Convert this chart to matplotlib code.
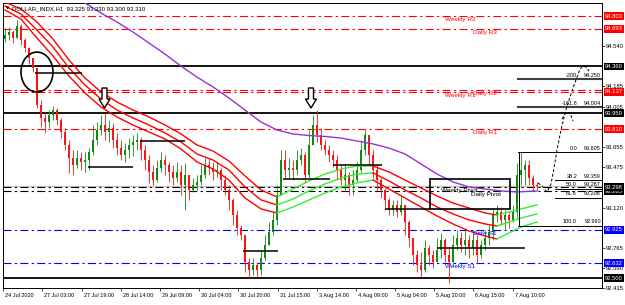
import numpy as np
import matplotlib
matplotlib.use("Agg")
import matplotlib.pyplot as plt
from matplotlib.patches import Ellipse, Polygon, Rectangle
from matplotlib import transforms

plt.rcParams['font.family'] = ['Liberation Sans', 'DejaVu Sans']

# DOLLAR_INDX H1, candles drawn every 2 bars
candle_x = np.arange(0, 268, 2)
first_open = 94.60
close = [94.636, 94.663, 94.610, 94.716, 94.593, 94.522, 94.434, 94.347, 94.021, 93.907,
         93.872, 93.934, 93.977, 93.890, 93.784, 93.670, 93.556, 93.494, 93.556, 93.521,
         93.538, 93.608, 93.714, 93.802, 93.846, 93.784, 93.819, 93.714, 93.643, 93.582,
         93.626, 93.670, 93.696, 93.714, 93.626, 93.538, 93.433, 93.362, 93.468, 93.538,
         93.494, 93.433, 93.380, 93.433, 93.318, 93.406, 93.275, 93.318, 93.345, 93.406,
         93.494, 93.468, 93.433, 93.450, 93.362, 93.275, 93.187, 93.055, 92.941, 92.879,
         92.642, 92.571, 92.615, 92.571, 92.677, 92.791, 92.905, 93.011, 93.231, 93.538,
         93.450, 93.468, 93.450, 93.538, 93.582, 93.406, 93.670, 93.846, 93.758, 93.670,
         93.626, 93.582, 93.538, 93.450, 93.362, 93.406, 93.318, 93.362, 93.450, 93.626,
         93.758, 93.582, 93.450, 93.362, 93.275, 93.187, 93.099, 93.143, 93.081, 93.143,
         92.993, 92.853, 92.703, 92.615, 92.571, 92.765, 92.703, 92.642, 92.747, 92.835,
         92.703, 92.642, 92.791, 92.853, 92.791, 92.835, 92.765, 92.835, 92.703, 92.791,
         92.853, 92.905, 93.055, 93.081, 93.011, 93.055, 93.011, 93.081, 93.406, 93.450,
         93.494, 93.380, 93.318, 93.310]
high = [94.698, 94.707, 94.680, 94.768, 94.733, 94.610, 94.531, 94.434, 94.329, 94.065,
        93.960, 93.977, 94.013, 93.995, 93.907, 93.819, 93.714, 93.626, 93.626, 93.608,
        93.608, 93.643, 93.846, 93.872, 93.934, 93.951, 93.890, 93.863, 93.775, 93.714,
        93.687, 93.731, 93.758, 93.775, 93.740, 93.670, 93.582, 93.494, 93.538, 93.608,
        93.582, 93.521, 93.494, 93.521, 93.494, 93.512, 93.362, 93.380, 93.406, 93.494,
        93.556, 93.556, 93.521, 93.521, 93.468, 93.406, 93.318, 93.204, 93.099, 92.967,
        92.765, 92.677, 92.677, 92.642, 92.747, 92.879, 92.993, 93.081, 93.318, 93.626,
        93.626, 93.556, 93.538, 93.626, 93.643, 93.608, 93.802, 93.934, 93.977, 93.819,
        93.714, 93.670, 93.626, 93.582, 93.494, 93.494, 93.433, 93.450, 93.521, 93.714,
        93.802, 93.758, 93.626, 93.494, 93.380, 93.292, 93.204, 93.187, 93.187, 93.231,
        93.143, 93.011, 92.853, 92.747, 92.730, 92.835, 92.791, 92.747, 92.853, 92.897,
        92.853, 92.765, 92.879, 92.923, 92.905, 92.923, 92.879, 92.923, 92.879, 92.835,
        92.923, 92.967, 93.116, 93.143, 93.125, 93.099, 93.081, 93.143, 93.512, 93.608,
        93.538, 93.538, 93.406, 93.345]
low = [94.575, 94.593, 94.566, 94.610, 94.549, 94.487, 94.382, 94.311, 93.995, 93.828,
       93.775, 93.819, 93.890, 93.846, 93.731, 93.626, 93.424, 93.406, 93.468, 93.450,
       93.433, 93.450, 93.582, 93.670, 93.758, 93.714, 93.696, 93.643, 93.582, 93.538,
       93.521, 93.556, 93.573, 93.626, 93.538, 93.450, 93.336, 93.318, 93.345, 93.433,
       93.406, 93.345, 93.318, 93.345, 93.231, 93.099, 93.187, 93.257, 93.275, 93.318,
       93.380, 93.406, 93.362, 93.389, 93.275, 93.231, 93.099, 92.967, 92.879, 92.835,
       92.554, 92.501, 92.528, 92.510, 92.528, 92.659, 92.791, 92.879, 92.967, 93.231,
       93.380, 93.380, 93.362, 93.406, 93.494, 93.336, 93.380, 93.670, 93.696, 93.626,
       93.582, 93.521, 93.477, 93.362, 93.318, 93.275, 93.231, 93.231, 93.345, 93.433,
       93.582, 93.494, 93.380, 93.275, 93.204, 93.099, 93.055, 93.055, 93.037, 93.055,
       92.879, 92.774, 92.615, 92.554, 92.510, 92.554, 92.615, 92.589, 92.642, 92.677,
       92.642, 92.457, 92.615, 92.747, 92.730, 92.703, 92.677, 92.703, 92.633, 92.677,
       92.747, 92.791, 92.835, 92.993, 92.967, 92.923, 92.941, 92.993, 93.028, 93.318,
       93.318, 93.318, 93.275, 93.275]

# MA band (3 lines), colour switches at trend changes
band_x = [0, 8, 16, 24, 32, 40, 48, 56, 64, 72, 80, 88, 96, 104, 112, 120, 128, 136,
          144, 152, 160, 168, 176, 184, 192, 200, 208, 216, 224, 232, 240, 246, 252, 258, 266]
band_upper = [94.926, 94.865, 94.751, 94.601, 94.417, 94.259, 94.136, 94.048, 93.977, 93.916,
              93.846, 93.767, 93.670, 93.617, 93.529, 93.398, 93.275, 93.213, 93.283, 93.354,
              93.415, 93.459, 93.485, 93.485, 93.433, 93.362, 93.292, 93.222, 93.160, 93.116,
              93.072, 93.055, 93.081, 93.108, 93.143]
band_mid = [94.891, 94.821, 94.680, 94.531, 94.347, 94.197, 94.074, 93.977, 93.907, 93.846,
            93.775, 93.696, 93.591, 93.538, 93.450, 93.301, 93.187, 93.143, 93.195, 93.266,
            93.327, 93.380, 93.415, 93.424, 93.354, 93.275, 93.204, 93.125, 93.064, 93.011,
            92.976, 92.958, 92.993, 93.028, 93.064]
band_lower = [94.856, 94.777, 94.610, 94.452, 94.276, 94.127, 94.004, 93.916, 93.846, 93.784,
              93.723, 93.635, 93.521, 93.459, 93.362, 93.204, 93.108, 93.072, 93.125, 93.187,
              93.248, 93.301, 93.336, 93.362, 93.283, 93.204, 93.125, 93.046, 92.976, 92.914,
              92.870, 92.844, 92.897, 92.949, 92.993]
trend_switch = [136, 184, 246]
band_colors = ['#ff0000', '#33ee33', '#ff0000', '#33ee33']

# slow MA
ma_x = [35, 40, 48, 56, 64, 72, 80, 88, 96, 104, 112, 120, 128, 136, 144, 152, 160, 168,
        176, 184, 192, 200, 208, 216, 224, 232, 240, 248, 256, 266]
ma_y = [94.970, 94.918, 94.830, 94.751, 94.663, 94.566, 94.469, 94.364, 94.267, 94.180,
        94.083, 93.977, 93.872, 93.802, 93.767, 93.753, 93.745, 93.731, 93.705, 93.679,
        93.643, 93.591, 93.503, 93.415, 93.345, 93.301, 93.283, 93.266, 93.257, 93.266]

# pivot levels
level_names = ["Weekly R2", "Daily R3", "Daily R2", "Weekly R1", "Daily R1",
               "Weekly Pivot", "Daily Pivot", "Daily S1", "Weekly S1"]
level_prices = [94.803, 94.693, 94.155, 94.137, 93.810, 93.298, 93.265, 92.925, 92.632]
level_colors = ['#ff0000', '#ff0000', '#ff0000', '#ff0000', '#ff0000',
                'black', 'black', '#0000ff', '#0000ff']
level_label_x = [220, 234, 234, 220, 234, 218, 233, 234, 220]

sr_levels = [94.360, 93.950, 92.500]
bid_price = 93.310

# right scale
plain_ticks = [94.540, 94.185, 94.005, 93.655, 93.475, 93.120, 92.765, 92.590, 92.415]
box_prices = [94.803, 94.693, 94.137, 94.360, 93.950, 93.810, 93.265, 93.298, 92.925, 92.632, 92.500]
box_colors = ['#ff0000', '#ff0000', '#ff0000', 'black', 'black', '#ff0000',
              'black', 'black', '#0000ff', '#0000ff', 'black']

# time axis
time_pos = [-1, 18.5, 38.5, 58, 77.5, 97, 116.5, 136.5, 156, 175.5, 195, 214.5, 234, 254]
time_labels = ["24 Jul 2020", "27 Jul 03:00", "27 Jul 19:00", "28 Jul 14:00", "29 Jul 09:00",
               "30 Jul 04:00", "30 Jul 20:00", "31 Jul 15:00", "3 Aug 14:00", "4 Aug 09:00",
               "5 Aug 04:00", "5 Aug 20:00", "6 Aug 15:00", "7 Aug 10:00"]

# fibonacci retracement
fib_names = ["-200", "-161.8", "0.0", "38.2", "50.0", "61.8", "100.0"]
fib_prices = [94.250, 94.004, 93.605, 93.359, 93.287, 93.206, 92.960]
fib_start = [256.5, 256.5, 256.5, 275, 275, 275, 256.5]

# drawings
seg_x0 = [15, 41.5, 67.5, 119, 139, 164, 190, 216]
seg_x1 = [38.5, 64, 90, 136.5, 162.5, 188.5, 212.5, 260]
seg_y = [94.303, 93.477, 93.705, 92.738, 93.371, 93.494, 93.108, 92.765]
box_x = [212.5, 252.5]
box_y = [93.108, 93.371]
arrow_x = [49.75, 153]
arrow_top, arrow_neck, arrow_tip = 94.171, 94.074, 93.995
circle_xy = (16, 94.311)
path_x = [266.5, 268.5, 271, 273, 274.5, 276, 278, 280, 282, 284, 286, 287.5, 289, 290.5, 292]
path_y = [93.336, 93.310, 93.257, 93.327, 93.468, 93.626, 93.802, 93.951, 94.065, 94.171,
          94.267, 94.338, 94.364, 94.355, 94.320]
hook_x = [278.5, 280.5, 282.5, 284]
hook_y = [93.898, 93.960, 93.951, 93.881]

fig = plt.figure(figsize=(6.25, 3.05), dpi=100)
ax = fig.add_axes([3 / 625, 17 / 305, 599 / 625, 285 / 305])
ax.set_xlim(-1, 298.5)
ax.set_ylim(92.413, 94.918)

dashdot = (0, (7.2, 3, 2, 3))

# horizontal levels
ax.axhline(bid_price, color='#c0c0c0', lw=0.8, zorder=1)
for p in sr_levels:
    ax.axhline(p, color='black', lw=1.3, zorder=1)
for name, p, col, lx in zip(level_names, level_prices, level_colors, level_label_x):
    ax.axhline(p, color=col, lw=0.8, ls=dashdot, zorder=1)
    ax.annotate(name, (lx, p), xytext=(0, -0.8), textcoords='offset points',
                color=col, fontsize=4.6, ha='left', va='top', zorder=6)

# candles
c = np.array(close)
o = np.r_[first_open, c[:-1]]
hi = np.maximum(np.array(high), np.maximum(o, c))
lo = np.minimum(np.array(low), np.minimum(o, c))
cols = np.where(c >= o, '#118a11', '#ff1414')
ax.vlines(candle_x, lo, hi, colors=cols, lw=0.6, zorder=3)
body = np.where(np.abs(c - o) < 0.004, 0.004, c - o)
ax.bar(candle_x, body, bottom=o, width=1.2, color=cols, lw=0, zorder=3)

# indicators
bx = np.array(band_x)
edges = [bx[0]] + trend_switch + [bx[-1]]
for i in range(len(edges) - 1):
    m = (bx >= edges[i]) & (bx <= edges[i + 1])
    for band in (band_upper, band_mid, band_lower):
        ax.plot(bx[m], np.array(band)[m], color=band_colors[i], lw=1.0, zorder=4)
ax.plot(ma_x, ma_y, color='#9b30d9', lw=1.0, zorder=4)

# fibonacci
for name, p, x0 in zip(fib_names, fib_prices, fib_start):
    lw = 1.5 if p > 94 else 0.7
    col = '#404040' if p > 94 else 'black'
    ax.plot([x0, 298.5], [p, p], color=col, lw=lw, zorder=5)
    ax.text(286, p + 0.012, name, fontsize=4, ha='right', va='bottom', zorder=6)
    ax.text(298, p + 0.012, f"{p:.3f}", fontsize=4, ha='right', va='bottom', zorder=6)
ax.plot([257, 257], [fib_prices[-1], fib_prices[2]], color='black', lw=0.7, zorder=5)

# drawn objects
ax.hlines(seg_y, seg_x0, seg_x1, colors='black', lw=1.1, zorder=5)
ax.add_patch(Rectangle((box_x[0], box_y[0]), box_x[1] - box_x[0], box_y[1] - box_y[0],
                       fill=False, ec='black', lw=1.2, zorder=5))
ax.add_patch(Ellipse(circle_xy, 16, 0.351, fill=False, ec='black', lw=1.2, zorder=5))
for ax_x in arrow_x:
    pts = [(ax_x - 1.25, arrow_top), (ax_x + 1.25, arrow_top), (ax_x + 1.25, arrow_neck),
           (ax_x + 2.75, arrow_neck), (ax_x, arrow_tip), (ax_x - 2.75, arrow_neck),
           (ax_x - 1.25, arrow_neck)]
    ax.add_patch(Polygon(pts, closed=True, fc='white', ec='black', lw=1.0, zorder=6))
ax.plot(path_x, path_y, color='black', lw=0.7, ls=(0, (3, 2)), zorder=6)
ax.plot(hook_x, hook_y, color='black', lw=0.7, ls=(0, (3, 2)), zorder=6)

# axes styling
for s in ax.spines.values():
    s.set_color('black')
    s.set_linewidth(0.7)
ax.set_xticks(time_pos)
ax.set_xticklabels(time_labels, fontsize=4, ha='left')
ax.tick_params(axis='x', length=2, width=0.5, pad=1.5)
shift = transforms.ScaledTranslation(2 / 100, 0, fig.dpi_scale_trans)
for lab in ax.get_xticklabels():
    lab.set_transform(lab.get_transform() + shift)
ax.yaxis.tick_right()
ax.set_yticks(plain_ticks)
ax.set_yticklabels([f"{p:.3f}" for p in plain_ticks], fontsize=4.2)
ax.tick_params(axis='y', length=2, width=0.5, pad=1)

trans = transforms.blended_transform_factory(ax.transAxes, ax.transData)
for p, col in zip(box_prices, box_colors):
    ax.text(1.0 + 3 / 599, p, f"{p:.3f}", transform=trans, fontsize=4.2, color='white',
            ha='left', va='center', clip_on=False, zorder=7,
            bbox=dict(boxstyle='square,pad=0.25', fc=col, ec='none'))

fig.text(12 / 625, 1 - 9 / 305, "DOLLAR_INDX,H1  93.325 93.330 93.300 93.310",
         fontsize=4.3, ha='left', va='center')
fig.text(6 / 625, 1 - 9 / 305, "\u25bc", fontsize=3, ha='left', va='center',
         family=['DejaVu Sans'])

fig.savefig("out.png", dpi=100)
